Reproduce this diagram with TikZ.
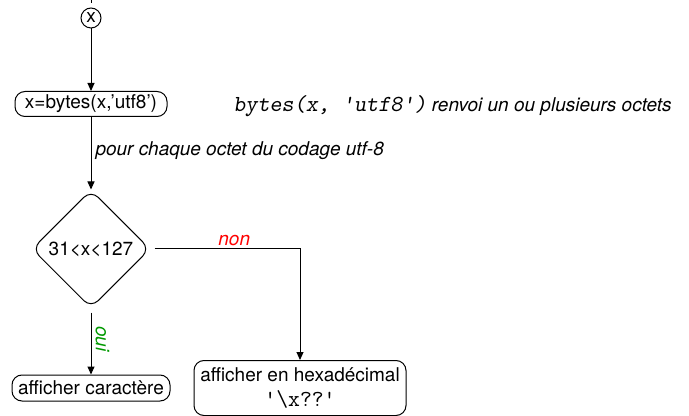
\documentclass[tikz,border=0pt]{standalone}
\usepackage{fontspec}
\setmainfont{TeX Gyre Heros}
\usetikzlibrary{shapes.geometric, arrows.meta, positioning}

\begin{document}
\begin{tikzpicture}[
		x=0.5pt, y=-0.5pt,
		font=\fontsize{9.5}{11.5}\selectfont,
		start/.style={circle, draw, line width=0.5pt, inner sep=0pt, minimum size=10pt},
		stepbox/.style={rectangle, draw, line width=0.5pt, rounded corners=5pt, minimum height=12.5pt, inner xsep=2pt, inner ysep=0pt},
		test/.style={diamond, draw, line width=0.5pt, rounded corners=5pt, inner sep=0pt, minimum size=59pt},
		note/.style={font=\fontsize{9.5}{11.5}\selectfont\itshape},
		arrow/.style={-{Triangle[length=4pt, width=3.5pt]}, line width=0.5pt}
		]
		\useasboundingbox (0,0) rectangle (689,416);
		% Nodes
		\coordinate (in) at (91,0);
		\coordinate (in2) at (91,3);
		\node[start] (x) at (91,18) {x};
		\node[stepbox, minimum width=76pt] (bytes) at (91,104) {x=bytes(x,’utf8’)};
		\node[anchor=west, inner sep=0pt] (remark) at (233,106) {\texttt{\slshape\fontsize{11.5}{12}\selectfont bytes(x, \textquotesingle utf8\textquotesingle)} \textit{renvoi un ou plusieurs octets}};
		\node[test] (test) at (91,249) {31<x<127};
		\node[stepbox, minimum width=79pt, minimum height=13pt] (char) at (91,388) {afficher caractère};
		\node[stepbox, minimum width=106pt, minimum height=27.5pt, align=center] (hex) at (300,388) {afficher en hexadécimal\\[1pt]{\fontsize{11.5}{12}\selectfont\ttfamily\textquotesingle\textbackslash x??\textquotesingle}};
		
		% Arrows
		\draw[line width=0.5pt] (in) -- (in2);
		\draw[arrow] (x) -- (bytes);
		\draw[arrow] (bytes) -- node[note, right, pos=0.47, inner xsep=2pt] {pour chaque octet du codage utf-8} (test);
		\draw[arrow, shorten <=2pt] (test.east) -| node[note, red, above, pos=0.28, inner sep=1.5pt] {non} (hex.north);
		\draw[arrow, shorten <=2pt] (test.south) -- node[note, green!60!black, rotate=-90, anchor=south, pos=0.46, inner sep=2pt] {oui} (char.north);
	\end{tikzpicture}
\end{document}
